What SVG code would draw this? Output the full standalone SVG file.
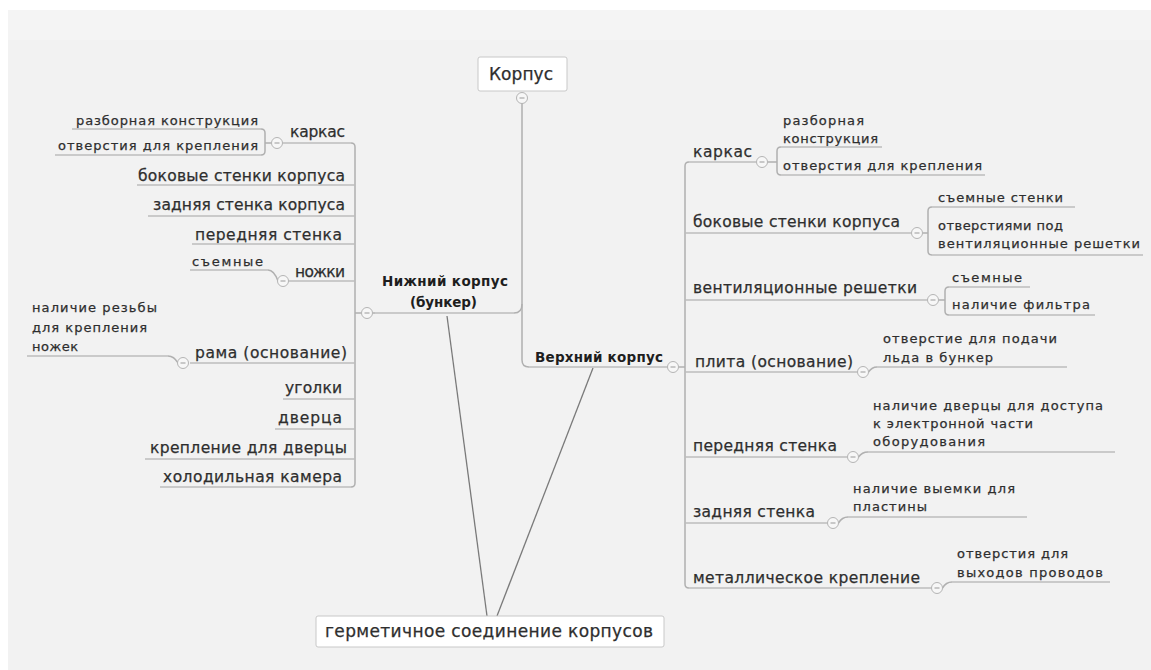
<svg xmlns="http://www.w3.org/2000/svg" xmlns:xlink="http://www.w3.org/1999/xlink" width="1151" height="670" viewBox="0 0 1151 670">
<style>
text{font-family:"DejaVu Sans","Liberation Sans",sans-serif;fill:#2e2e2e;stroke:#2e2e2e;stroke-width:0.25}
.l2{font-size:15.5px}
.l3{font-size:13px}
.b{font-size:13.5px;font-weight:bold;fill:#1e1e1e;stroke:none}
.big{font-size:17px}
.ul{stroke:#bcbcbc;stroke-width:1.5;fill:none}
.con{stroke:#b0b0b0;stroke-width:1.5;fill:none}
.link{stroke:#7a7a7a;stroke-width:1.3;fill:none}
.box{fill:#fff;stroke:#c8c8c8;stroke-width:1}
</style>
<defs>
<g id="tog"><circle r="5.5" fill="#f7f7f7" stroke="#b4b4b4" stroke-width="1"/><path d="M-2.5,0H2.5" stroke="#999" stroke-width="1"/></g>
</defs>
<rect x="0" y="0" width="1151" height="670" fill="#fff"/>
<rect x="8" y="10" width="1143" height="660" fill="#f2f2f2"/>
<rect x="8" y="10" width="1143" height="30" fill="#f4f4f4"/>

<g id="connectors">
<path class="con" d="M522,103 V360 Q522,367 529,367"/>
<path class="con" d="M522,304 Q522,313 514,313"/>
<path class="link" d="M447,316 L487,616"/>
<path class="link" d="M593,368 L497,616"/>
<path class="con" d="M351,143 Q355,143 355,147 V483 Q355,487 351,487"/>
<path class="con" d="M355,313 H361.5 M372.5,313 H375"/>
<path class="con" d="M261,129 Q265,129 265,133 V151 Q265,155 261,155 M265,143 H271.5 M282.5,143 H283"/>
<path class="con" d="M278,281 Q274,270 268,270"/>
<path class="con" d="M178,363 Q174,356 168,356"/>
<path class="con" d="M689,162 Q685,162 685,166 V584 Q685,588 689,588"/>
<path class="con" d="M678.5,367 H685"/>
<path class="con" d="M767.5,162 H777 M781,147 Q777,147 777,151 V171 Q777,175 781,175"/>
<path class="con" d="M922.5,233 H928 M932,207 Q928,207 928,211 V251 Q928,255 932,255"/>
<path class="con" d="M938.5,300 H945 M949,287 Q945,287 945,291 V311 Q945,315 949,315"/>
<path class="con" d="M868.5,372 Q872,367 877,367"/>
<path class="con" d="M858.5,457 Q862,452 868,452"/>
<path class="con" d="M838.5,523 Q842,517 848,517"/>
<path class="con" d="M942.5,588 Q946,582 952,582"/>
</g>

<g id="root-korpus">
<rect class="box" x="478" y="57" width="89" height="34" rx="2"/>
<text class="big" x="489" y="80" textLength="64" lengthAdjust="spacing">Корпус</text>
<use xlink:href="#tog" x="522" y="98"/>
</g>

<g id="node-hermetic">
<rect class="box" x="316" y="616" width="348" height="31" rx="2"/>
<text class="big" x="325" y="637" textLength="328" lengthAdjust="spacing">герметичное соединение корпусов</text>
</g>

<g id="node-lower">
<text class="b" x="382" y="286" textLength="126" lengthAdjust="spacing">Нижний корпус</text>
<text class="b" x="410" y="307" textLength="67" lengthAdjust="spacing">(бункер)</text>
<path class="ul" d="M375,313 H514"/>
<use xlink:href="#tog" x="367" y="313"/>
</g>

<g id="node-upper">
<text class="b" x="535" y="362" textLength="128" lengthAdjust="spacing">Верхний корпус</text>
<path class="ul" d="M529,367 H668"/>
<use xlink:href="#tog" x="673" y="367"/>
</g>

<g id="l-karkas">
<text class="l2" x="290" y="137" textLength="55" lengthAdjust="spacing">каркас</text>
<path class="ul" d="M283,143 H351"/>
<use xlink:href="#tog" x="277" y="143"/>
</g>
<g id="l-karkas-razb">
<text class="l3" x="76" y="125" textLength="182" lengthAdjust="spacing">разборная конструкция</text>
<path class="ul" d="M72,129 H261"/>
</g>
<g id="l-karkas-otv">
<text class="l3" x="58" y="150" textLength="200" lengthAdjust="spacing">отверстия для крепления</text>
<path class="ul" d="M55,155 H261"/>
</g>
<g id="l-bokovye">
<text class="l2" x="138" y="181" textLength="207" lengthAdjust="spacing">боковые стенки корпуса</text>
<path class="ul" d="M137,185 H355"/>
</g>
<g id="l-zadnyaya">
<text class="l2" x="153" y="210" textLength="192" lengthAdjust="spacing">задняя стенка корпуса</text>
<path class="ul" d="M148,216 H355"/>
</g>
<g id="l-perednyaya">
<text class="l2" x="195" y="240" textLength="147" lengthAdjust="spacing">передняя стенка</text>
<path class="ul" d="M192,244 H355"/>
</g>
<g id="l-nozhki">
<text class="l2" x="295" y="277" textLength="50" lengthAdjust="spacing">ножки</text>
<path class="ul" d="M288,281 H355"/>
<use xlink:href="#tog" x="283" y="281"/>
</g>
<g id="l-nozhki-sem">
<text class="l3" x="192" y="266" textLength="71" lengthAdjust="spacing">съемные</text>
<path class="ul" d="M190,270 H268"/>
</g>
<g id="l-rama">
<text class="l2" x="195" y="358" textLength="152" lengthAdjust="spacing">рама (основание)</text>
<path class="ul" d="M190,363 H355"/>
<use xlink:href="#tog" x="183" y="363"/>
</g>
<g id="l-rama-rezba">
<text class="l3" x="32" y="312" textLength="125" lengthAdjust="spacing">наличие резьбы</text>
<text class="l3" x="32" y="332" textLength="115" lengthAdjust="spacing">для крепления</text>
<text class="l3" x="32" y="351" textLength="46" lengthAdjust="spacing">ножек</text>
<path class="ul" d="M27,356 H168"/>
</g>
<g id="l-ugolki">
<text class="l2" x="285" y="393" textLength="57" lengthAdjust="spacing">уголки</text>
<path class="ul" d="M283,399 H355"/>
</g>
<g id="l-dverca">
<text class="l2" x="278" y="423" textLength="64" lengthAdjust="spacing">дверца</text>
<path class="ul" d="M275,429 H355"/>
</g>
<g id="l-kreplenie">
<text class="l2" x="150" y="453" textLength="197" lengthAdjust="spacing">крепление для дверцы</text>
<path class="ul" d="M145,459 H355"/>
</g>
<g id="l-holod">
<text class="l2" x="163" y="482" textLength="179" lengthAdjust="spacing">холодильная камера</text>
<path class="ul" d="M160,487 H351"/>
</g>

<g id="r-karkas">
<text class="l2" x="693" y="157" textLength="59" lengthAdjust="spacing">каркас</text>
<path class="ul" d="M689,162 H756.5"/>
<use xlink:href="#tog" x="762" y="162"/>
</g>
<g id="r-karkas-razb">
<text class="l3" x="783" y="125" textLength="81" lengthAdjust="spacing">разборная</text>
<text class="l3" x="783" y="143" textLength="95" lengthAdjust="spacing">конструкция</text>
<path class="ul" d="M781,147 H882"/>
</g>
<g id="r-karkas-otv">
<text class="l3" x="783" y="170" textLength="199" lengthAdjust="spacing">отверстия для крепления</text>
<path class="ul" d="M781,175 H985"/>
</g>
<g id="r-bokovye">
<text class="l2" x="693" y="227" textLength="207" lengthAdjust="spacing">боковые стенки корпуса</text>
<path class="ul" d="M685,233 H911.5"/>
<use xlink:href="#tog" x="917" y="233"/>
</g>
<g id="r-bokovye-sem">
<text class="l3" x="938" y="202" textLength="125" lengthAdjust="spacing">съемные стенки</text>
<path class="ul" d="M932,207 H1075"/>
</g>
<g id="r-bokovye-otv">
<text class="l3" x="938" y="230" textLength="125" lengthAdjust="spacing">отверстиями под</text>
<text class="l3" x="938" y="248" textLength="202" lengthAdjust="spacing">вентиляционные решетки</text>
<path class="ul" d="M932,255 H1143"/>
</g>
<g id="r-vent">
<text class="l2" x="693" y="293" textLength="224" lengthAdjust="spacing">вентиляционные решетки</text>
<path class="ul" d="M685,300 H927.5"/>
<use xlink:href="#tog" x="933" y="300"/>
</g>
<g id="r-vent-sem">
<text class="l3" x="952" y="282" textLength="70" lengthAdjust="spacing">съемные</text>
<path class="ul" d="M949,287 H1030"/>
</g>
<g id="r-vent-filtr">
<text class="l3" x="952" y="309" textLength="138" lengthAdjust="spacing">наличие фильтра</text>
<path class="ul" d="M949,315 H1095"/>
</g>
<g id="r-plita">
<text class="l2" x="695" y="367" textLength="158" lengthAdjust="spacing">плита (основание)</text>
<path class="ul" d="M685,372 H857.5"/>
<use xlink:href="#tog" x="863" y="372"/>
</g>
<g id="r-plita-otv">
<text class="l3" x="883" y="343" textLength="174" lengthAdjust="spacing">отверстие для подачи</text>
<text class="l3" x="883" y="362" textLength="110" lengthAdjust="spacing">льда в бункер</text>
<path class="ul" d="M877,367 H1067"/>
</g>
<g id="r-perednyaya">
<text class="l2" x="693" y="451" textLength="144" lengthAdjust="spacing">передняя стенка</text>
<path class="ul" d="M685,457 H847.5"/>
<use xlink:href="#tog" x="853" y="457"/>
</g>
<g id="r-perednyaya-dv">
<text class="l3" x="873" y="410" textLength="230" lengthAdjust="spacing">наличие дверцы для доступа</text>
<text class="l3" x="873" y="428" textLength="160" lengthAdjust="spacing">к электронной части</text>
<text class="l3" x="873" y="446" textLength="112" lengthAdjust="spacing">оборудования</text>
<path class="ul" d="M868,452 H1115"/>
</g>
<g id="r-zadnyaya">
<text class="l2" x="693" y="517" textLength="122" lengthAdjust="spacing">задняя стенка</text>
<path class="ul" d="M685,523 H827.5"/>
<use xlink:href="#tog" x="833" y="523"/>
</g>
<g id="r-zadnyaya-vyem">
<text class="l3" x="853" y="493" textLength="162" lengthAdjust="spacing">наличие выемки для</text>
<text class="l3" x="853" y="511" textLength="74" lengthAdjust="spacing">пластины</text>
<path class="ul" d="M848,517 H1027"/>
</g>
<g id="r-metall">
<text class="l2" x="693" y="583" textLength="227" lengthAdjust="spacing">металлическое крепление</text>
<path class="ul" d="M689,588 H931.5"/>
<use xlink:href="#tog" x="937" y="588"/>
</g>
<g id="r-metall-otv">
<text class="l3" x="957" y="558" textLength="111" lengthAdjust="spacing">отверстия для</text>
<text class="l3" x="957" y="577" textLength="146" lengthAdjust="spacing">выходов проводов</text>
<path class="ul" d="M952,582 H1110"/>
</g>
</svg>
